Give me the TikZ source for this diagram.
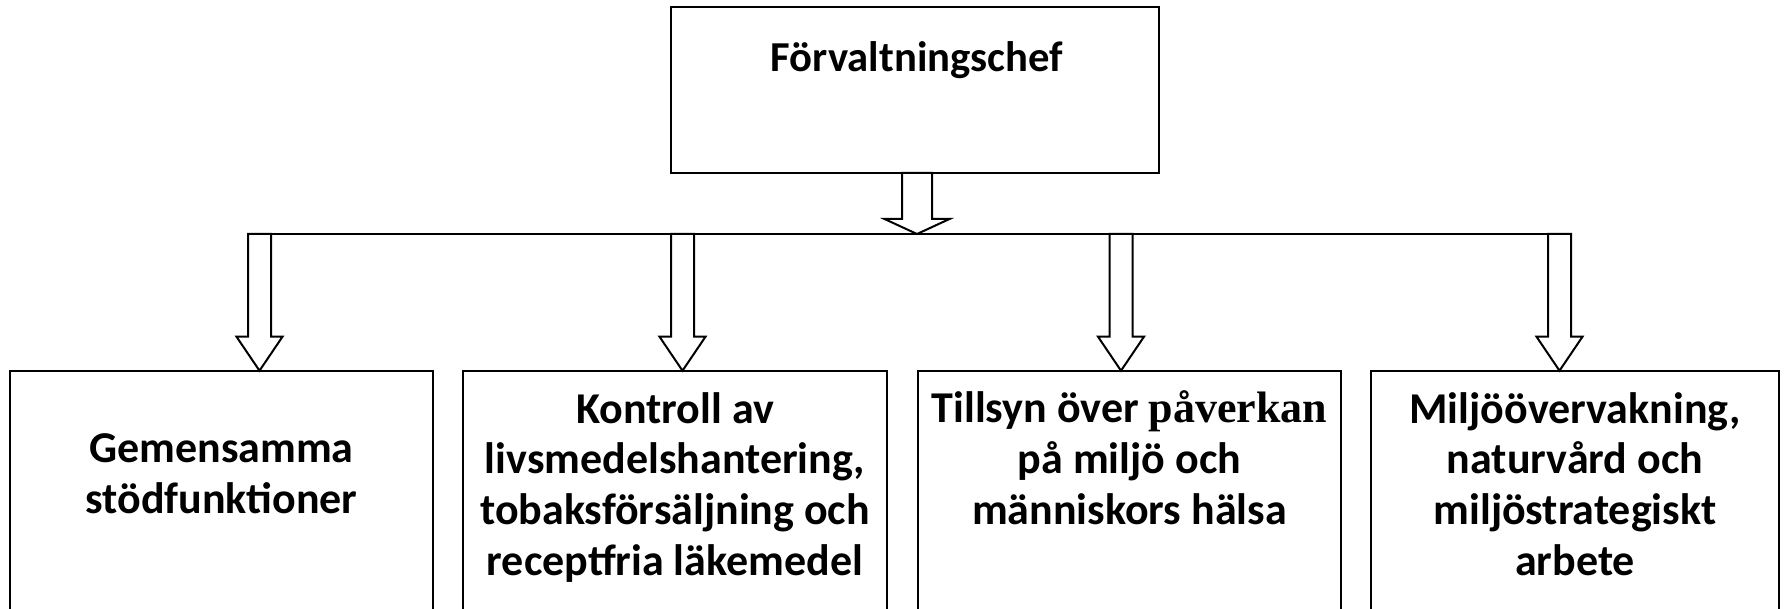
\documentclass[tikz,border=0pt]{standalone}
\usepackage{fontspec}
\setmainfont{Carlito}
\newfontfamily\serifbold{Liberation Serif}
\usetikzlibrary{calc}

\tikzset{every picture/.style={line width=1.5pt}}
\tikzset{
  boxtext/.style={anchor=base,inner sep=0.75pt,align=center,font=\bfseries\fontsize{33}{38}\selectfont},
  fatarrow/.style={draw,fill=white,line join=miter}
}
% hollow block arrow: start, tip, shaft half width, head half width, head length
\newcommand{\fatarrow}[5]{%
  \draw[fatarrow] ($(#1)+(-#3,0)$) -- ($(#2)+(-#3,-#5)$) -- ($(#2)+(-#4,-#5)$) -- (#2)
    -- ($(#2)+(#4,-#5)$) -- ($(#2)+(#3,-#5)$) -- ($(#1)+(#3,0)$) -- cycle;}

\begin{document}
\begin{tikzpicture}[x=0.75pt,y=0.75pt,yscale=-1,xscale=1]
\useasboundingbox (0,0) rectangle (1785,609);
\clip (0,0) rectangle (1785,609);
%Shape: Rectangle [top box]
\draw (671,7) rectangle (1159,173);
% Text Node
\node[boxtext,font=\bfseries\fontsize{32}{38}\selectfont] (chef) at (917,72) {Förvaltningschef};
%Shape: Rectangle [lower boxes, cut at the page foot]
\draw (10,370.7) rectangle (433,640);
\draw (463,370.7) rectangle (887,640);
\draw (918,370.7) rectangle (1341,640);
\draw (1371,370.7) rectangle (1779,640);
% Text Node (anchored on the last line)
\node[boxtext] (gemensam) at (221.5,513) {Gemensamma\\stödfunktioner};
% Text Node
\node[boxtext] (kontroll) at (675,575) {Kontroll av\\livsmedelshantering,\\tobaksförsäljning och\\receptfria läkemedel};
% Text Node
\node[boxtext] (tillsyn) at (1129.5,524) {Tillsyn över {\serifbold påverkan}\\på miljö och\\människors hälsa};
% Text Node
\node[boxtext] (miljo) at (1575,575) {Miljöövervakning,\\naturvård och\\miljöstrategiskt\\arbete};
% connector points
\coordinate (chefut) at (917,173);
\coordinate (bustop) at (917,234);
\coordinate (bus1) at (259.5,234);
\coordinate (bus2) at (682.5,234);
\coordinate (bus3) at (1121,234);
\coordinate (bus4) at (1559.5,234);
\coordinate (tip1) at (259.5,370.7);
\coordinate (tip2) at (682.5,370.7);
\coordinate (tip3) at (1121,370.7);
\coordinate (tip4) at (1559.5,370.7);
%Shape: Line [bus]
\draw ($(bus1)+(-11.5,0)$) -- ($(bus4)+(11.5,0)$);
%Shape: Down Arrow
\fatarrow{chefut}{bustop}{15}{32.5}{15}
\fatarrow{bus1}{tip1}{11.5}{23}{34}
\fatarrow{bus2}{tip2}{11.5}{23}{34}
\fatarrow{bus3}{tip3}{11.5}{23}{34}
\fatarrow{bus4}{tip4}{11.5}{23}{34}
\end{tikzpicture}
\end{document}
